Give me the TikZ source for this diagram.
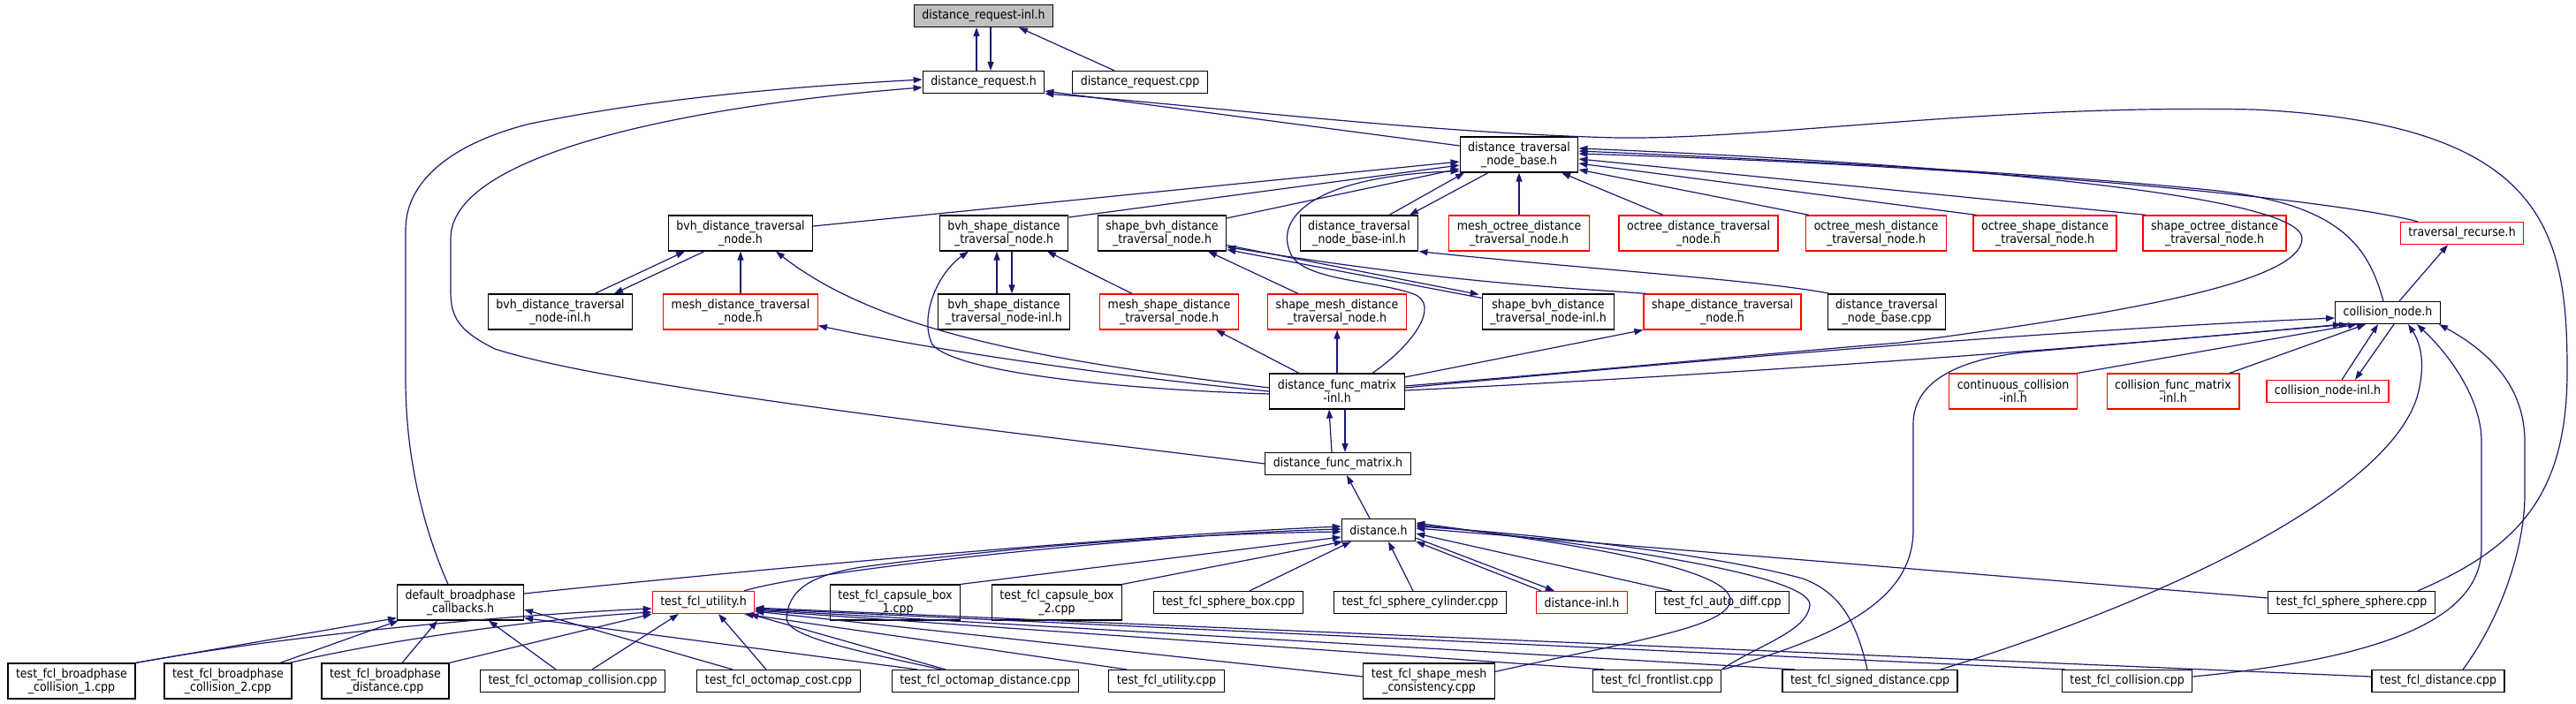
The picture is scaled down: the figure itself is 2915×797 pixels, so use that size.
\documentclass[tikz,border=0pt]{standalone}
\usepackage{fontspec}
\setmainfont{DejaVu Sans Condensed}
\usetikzlibrary{arrows.meta}
\definecolor{edgeblue}{HTML}{191970}
\definecolor{rootgray}{HTML}{BFBFBF}
\tikzset{
  file/.style={draw, line width=1.2pt, fill=white, align=center, inner xsep=9pt, inner ysep=4pt,
    minimum height=25pt, font=\fontsize{14}{15}\selectfont},
  tall/.style={minimum height=40pt},
  cut/.style={file, draw=red},
  dep/.style={draw=edgeblue, line width=1.2pt, -{Triangle[length=10pt,width=7pt]}}
}
\begin{document}
\begin{tikzpicture}[x=1pt,y=-1pt]
        \useasboundingbox (0,0) rectangle (2915,797);

        \node[file,fill=rootgray] at (1113,18) (reqinl) {distance\_request-inl.h};
        \node[file] at (1113,93) (reqh) {distance\_request.h};
        \node[file] at (1290,93) (reqcpp) {distance\_request.cpp};
        \node[file,tall] at (1719,175) (dtnb) {distance\_traversal\\\_node\_base.h};

        \node[file,tall] at (838,264) (bvhdtn) {bvh\_distance\_traversal\\\_node.h};
        \node[file,tall] at (1136,264) (bvhsdtn) {bvh\_shape\_distance\\\_traversal\_node.h};
        \node[file,tall] at (1315,264) (sbvhdtn) {shape\_bvh\_distance\\\_traversal\_node.h};
        \node[file,tall] at (1538,264) (dtnbinl) {distance\_traversal\\\_node\_base-inl.h};
        \node[cut,tall] at (1719,264) (moct) {mesh\_octree\_distance\\\_traversal\_node.h};
        \node[cut,tall] at (1922,264) (oct) {octree\_distance\_traversal\\\_node.h};
        \node[cut,tall] at (2123,264) (omesh) {octree\_mesh\_distance\\\_traversal\_node.h};
        \node[cut,tall] at (2314,264) (oshape) {octree\_shape\_distance\\\_traversal\_node.h};
        \node[cut,tall] at (2506,264) (soct) {shape\_octree\_distance\\\_traversal\_node.h};
        \node[cut] at (2786,264) (trec) {traversal\_recurse.h};

        \node[file,tall] at (634,353) (bvhinl) {bvh\_distance\_traversal\\\_node-inl.h};
        \node[cut,tall] at (838,353) (meshdtn) {mesh\_distance\_traversal\\\_node.h};
        \node[file,tall] at (1136,353) (bvhsinl) {bvh\_shape\_distance\\\_traversal\_node-inl.h};
        \node[cut,tall] at (1323,353) (mshape) {mesh\_shape\_distance\\\_traversal\_node.h};
        \node[cut,tall] at (1513,353) (smesh) {shape\_mesh\_distance\\\_traversal\_node.h};
        \node[file,tall] at (1752,353) (sbvhinl) {shape\_bvh\_distance\\\_traversal\_node-inl.h};
        \node[cut,tall] at (1949,353) (sdtn) {shape\_distance\_traversal\\\_node.h};
        \node[file,tall] at (2135,353) (dtnbcpp) {distance\_traversal\\\_node\_base.cpp};
        \node[file] at (2702,354) (cnode) {collision\_node.h};

        \node[file,tall] at (1513,443) (dfminl) {distance\_func\_matrix\\-inl.h};
        \node[cut,tall] at (2278,443) (ccinl) {continuous\_collision\\-inl.h};
        \node[cut,tall] at (2459,443) (cfminl) {collision\_func\_matrix\\-inl.h};
        \node[cut] at (2634,443) (cninl) {collision\_node-inl.h};
        \node[file] at (1514,525) (dfm) {distance\_func\_matrix.h};
        \node[file] at (1560,600) (dist) {distance.h};

        \node[file,tall] at (521,682) (dbc) {default\_broadphase\\\_callbacks.h};
        \node[cut] at (796,682) (tfuh) {test\_fcl\_utility.h};
        \node[file,tall] at (1013,682) (cap1) {test\_fcl\_capsule\_box\\\_1.cpp};
        \node[file,tall] at (1196,682) (cap2) {test\_fcl\_capsule\_box\\\_2.cpp};
        \node[file] at (1390,682) (sbox) {test\_fcl\_sphere\_box.cpp};
        \node[file] at (1607,682) (scyl) {test\_fcl\_sphere\_cylinder.cpp};
        \node[cut] at (1790,682) (dinl) {distance-inl.h};
        \node[file] at (1949,682) (adiff) {test\_fcl\_auto\_diff.cpp};
        \node[file] at (2661,682) (ssph) {test\_fcl\_sphere\_sphere.cpp};

        \node[file,tall] at (81,771) (bc1) {test\_fcl\_broadphase\\\_collision\_1.cpp};
        \node[file,tall] at (258,771) (bc2) {test\_fcl\_broadphase\\\_collision\_2.cpp};
        \node[file,tall] at (436,771) (bdist) {test\_fcl\_broadphase\\\_distance.cpp};
        \node[file] at (648,771) (ocol) {test\_fcl\_octomap\_collision.cpp};
        \node[file] at (881,771) (ocost) {test\_fcl\_octomap\_cost.cpp};
        \node[file] at (1115,771) (odist) {test\_fcl\_octomap\_distance.cpp};
        \node[file] at (1320,771) (tfucpp) {test\_fcl\_utility.cpp};
        \node[file,tall] at (1617,771) (smc) {test\_fcl\_shape\_mesh\\\_consistency.cpp};
        \node[file] at (1875,771) (flist) {test\_fcl\_frontlist.cpp};
        \node[file] at (2116,771) (sdist) {test\_fcl\_signed\_distance.cpp};
        \node[file] at (2407,771) (tcol) {test\_fcl\_collision.cpp};
        \node[file] at (2759,771) (tdist) {test\_fcl\_distance.cpp};

        \draw[dep] ([xshift=-8pt]reqh.north) -- ([xshift=-8pt]reqinl.south);
        \draw[dep] ([xshift=8pt]reqinl.south) -- ([xshift=8pt]reqh.north);
        \draw[dep] ([xshift=-29pt]reqcpp.north) -- ([xshift=40pt]reqinl.south);

        \draw[dep] ([yshift=10pt]dtnb.west) -- ([yshift=3pt]reqh.south east);
        \draw[dep] ([xshift=75pt]ssph.north) .. controls (2850,620) and (2905,560) .. (2905,420)
          .. controls (2905,260) and (2880,140) .. (2550,124) .. controls (2250,118) and (2000,158) .. (1830,156)
          .. controls (1600,150) and (1350,118) .. (reqh.south east);
        \draw[dep] ([xshift=-14pt]dbc.north) .. controls (480,600) and (459,520) .. (459,430) -- (459,260)
          .. controls (459,200) and (520,160) .. (600,140) .. controls (750,110) and (900,98) .. ([yshift=3pt]reqh.west);
        \draw[dep] (dfm.west) .. controls (1150,490) and (700,440) .. (560,395) .. controls (520,375) and (510,360) .. (510,330)
          -- (510,270) .. controls (510,170) and (800,118) .. ([yshift=-6pt]reqh.west);

        \draw[dep] ([yshift=8pt]bvhdtn.east) -- ([yshift=-8pt]dtnb.west);
        \draw[dep] ([yshift=18pt]bvhsdtn.east) -- ([yshift=-12pt]dtnb.west);
        \draw[dep] ([yshift=17pt]sbvhdtn.east) -- ([yshift=-16pt]dtnb.west);
        \draw[dep] ([xshift=34pt]dtnbinl.north) -- ([xshift=-62pt]dtnb.south);
        \draw[dep] ([xshift=-35pt]dtnb.south) -- ([xshift=57pt]dtnbinl.north);
        \draw[dep] (moct.north) -- (dtnb.south);
        \draw[dep] ([xshift=-40pt]oct.north) -- ([xshift=48pt]dtnb.south);
        \draw[dep] ([xshift=4pt]omesh.north west) -- ([yshift=-17pt]dtnb.east);
        \draw[dep] ([xshift=4pt]oshape.north west) -- ([yshift=-10pt]dtnb.east);
        \draw[dep] ([xshift=4pt]soct.north west) -- ([yshift=-5pt]dtnb.east);
        \draw[dep] ([xshift=-50pt]trec.north) .. controls (2650,228) and (2300,190) .. ([yshift=1pt]dtnb.east);
        \draw[dep] ([xshift=-5pt]cnode.north) .. controls (2680,280) and (2650,230) .. (2500,215)
          .. controls (2300,195) and (2000,180) .. ([yshift=4pt]dtnb.east);
        \draw[dep] ([yshift=6pt]dfminl.east) .. controls (1800,420) and (2000,400) .. (2150,388)
          .. controls (2400,355) and (2605,320) .. (2605,270) .. controls (2605,220) and (2200,185) .. ([yshift=7pt]dtnb.east);
        \draw[dep] ([xshift=40pt]dfminl.north) .. controls (1600,390) and (1630,345) .. (1600,333)
          .. controls (1560,318) and (1480,318) .. (1462,290) .. controls (1440,250) and (1480,200) .. ([yshift=2pt]dtnb.south west);

        \draw[dep] ([xshift=39pt]bvhinl.north) -- ([xshift=-63pt]bvhdtn.south);
        \draw[dep] ([xshift=-41pt]bvhdtn.south) -- ([xshift=61pt]bvhinl.north);
        \draw[dep] (meshdtn.north) -- (bvhdtn.south);
        \draw[dep] ([yshift=4pt]dfminl.west) .. controls (1200,410) and (1000,380) .. ([xshift=40pt]bvhdtn.south);
        \draw[dep] (dfminl.west) .. controls (1250,425) and (1050,395) .. ([yshift=5pt]meshdtn.south east);

        \draw[dep] ([yshift=-3pt]dfminl.west) .. controls (1250,440) and (1080,420) .. (1055,390)
          .. controls (1040,360) and (1060,310) .. ([xshift=-40pt]bvhsdtn.south);
        \draw[dep] ([xshift=-8pt]bvhsinl.north) -- ([xshift=-8pt]bvhsdtn.south);
        \draw[dep] ([xshift=9pt]bvhsdtn.south) -- ([xshift=9pt]bvhsinl.north);
        \draw[dep] ([xshift=-42pt]mshape.north) -- ([xshift=49pt]bvhsdtn.south);

        \draw[dep] ([xshift=-44pt]smesh.north) -- ([xshift=52pt]sbvhdtn.south);
        \draw[dep] ([yshift=-5pt]sbvhinl.north west) -- ([yshift=2pt]sbvhdtn.south east);
        \draw[dep] ([yshift=7pt]sbvhdtn.south east) -- ([xshift=-3pt,yshift=-1pt]sbvhinl.north west);
        \draw[dep] ([xshift=3pt]sdtn.north west) .. controls (1780,326) and (1650,322) .. ([yshift=5pt]sbvhdtn.south east);
        \draw[dep] ([xshift=3pt]dtnbcpp.north west) .. controls (2000,318) and (1800,305) .. (dtnbinl.south east);

        \draw[dep] ([xshift=-43pt]dfminl.north) -- ([xshift=53pt]mshape.south);
        \draw[dep] (dfminl.north) -- (smesh.south);
        \draw[dep] ([yshift=16pt]dfminl.east) -- (sdtn.south west);
        \draw[dep] ([yshift=4pt]dfminl.east) .. controls (1900,410) and (2300,375) .. ([yshift=-6pt]cnode.west);
        \draw[dep] ([yshift=1pt]dfminl.east) .. controls (1900,427) and (2300,400) .. ([xshift=-52pt]cnode.south);

        \draw[dep] ([xshift=13pt]cnode.north) -- ([xshift=-16pt]trec.south);
        \draw[dep] (ccinl.north east) -- ([xshift=-35pt]cnode.south);
        \draw[dep] ([xshift=64pt]cfminl.north) -- ([xshift=-25pt]cnode.south);
        \draw[dep] ([xshift=16pt]cninl.north) -- ([xshift=-11pt]cnode.south);
        \draw[dep] ([xshift=7pt]cnode.south) -- ([xshift=31pt]cninl.north);
        \draw[dep] ([xshift=75pt]flist.north) .. controls (2080,720) and (2165,680) .. (2165,600) -- (2165,480)
          .. controls (2165,430) and (2220,405) .. (2300,398) .. controls (2450,385) and (2600,372) .. ([xshift=-45pt]cnode.south);
        \draw[dep] ([xshift=80pt]sdist.north) .. controls (2450,680) and (2700,560) .. (2735,450)
          .. controls (2745,415) and (2740,390) .. ([xshift=23pt]cnode.south);
        \draw[dep] ([yshift=5pt]tcol.east) .. controls (2700,745) and (2808,700) .. (2808,620) -- (2808,500)
          .. controls (2808,450) and (2770,400) .. ([xshift=33pt]cnode.south);
        \draw[dep] ([xshift=28pt]tdist.north) .. controls (2830,700) and (2857,620) .. (2857,560) -- (2857,500)
          .. controls (2857,440) and (2820,400) .. ([xshift=58pt]cnode.south);

        \draw[dep] ([xshift=-7pt]dfm.north) -- ([xshift=-9pt]dfminl.south);
        \draw[dep] ([xshift=9pt]dfminl.south) -- ([xshift=8pt]dfm.north);
        \draw[dep] ([xshift=-10pt]dist.north) -- ([xshift=10pt]dfm.south);

        \draw[dep] ([yshift=10pt]dbc.east) .. controls (900,640) and (1300,605) .. ([yshift=4pt]dist.west);
        \draw[dep] ([xshift=46pt]tfuh.north) .. controls (920,645) and (1300,605) .. ([yshift=1pt]dist.west);
        \draw[dep] ([xshift=-50pt]odist.north) .. controls (960,735) and (890,720) .. (890,700)
          .. controls (892,672) and (910,652) .. (975,642) .. controls (1150,618) and (1350,604) .. ([yshift=-2pt]dist.west);
        \draw[dep] (cap1.north east) -- ([yshift=-8pt]dist.west);
        \draw[dep] (cap2.north east) -- ([xshift=2pt]dist.south west);
        \draw[dep] ([xshift=24pt]sbox.north) -- ([xshift=-31pt]dist.south);
        \draw[dep] ([xshift=-8pt]scyl.north) -- ([xshift=11pt]dist.south);
        \draw[dep] ([xshift=-46pt]dinl.north) -- (dist.south east);
        \draw[dep] ([yshift=4pt]dist.south east) -- ([xshift=-31pt]dinl.north);
        \draw[dep] ([xshift=-57pt]adiff.north) -- ([yshift=-4pt]dist.east);
        \draw[dep] ([yshift=5pt]ssph.west) -- ([yshift=2pt]dist.east);
        \draw[dep] ([xshift=-3pt]sdist.north) .. controls (2100,700) and (2080,670) .. (2040,655)
          .. controls (1950,630) and (1750,605) .. ([yshift=4pt]dist.east);
        \draw[dep] (flist.north east) .. controls (1990,730) and (2045,715) .. (2048,685)
          .. controls (2050,650) and (1800,615) .. ([yshift=6pt]dist.east);
        \draw[dep] ([yshift=-10pt]smc.north east) .. controls (1850,725) and (1955,710) .. (1958,680)
          .. controls (1960,640) and (1750,612) .. ([yshift=8pt]dist.east);

        \draw[dep] (bc1.north east) .. controls (350,715) and (600,695) .. ([yshift=-7pt]tfuh.west);
        \draw[dep] ([xshift=-3pt]bc2.north east) .. controls (450,722) and (620,700) .. ([yshift=-11pt]tfuh.west);
        \draw[dep] (bdist.north east) -- (tfuh.south west);
        \draw[dep] ([xshift=22pt]ocol.north) -- ([xshift=-28pt]tfuh.south);
        \draw[dep] ([xshift=-14pt]ocost.north) -- ([xshift=17pt]tfuh.south);
        \draw[dep] ([xshift=-45pt]odist.north) -- ([xshift=-6pt]tfuh.south east);
        \draw[dep] ([xshift=-45pt]tfucpp.north) -- ([xshift=-12pt]tfuh.south east);
        \draw[dep] ([yshift=5pt]smc.west) -- ([yshift=3pt]tfuh.south east);
        \draw[dep] ([xshift=-60pt]flist.north) -- ([yshift=4pt]tfuh.south east);
        \draw[dep] ([xshift=-85pt]sdist.north) -- ([yshift=5pt]tfuh.south east);
        \draw[dep] ([xshift=-70pt]tcol.north) -- ([yshift=6pt]tfuh.south east);
        \draw[dep] ([yshift=5pt]tdist.west) -- ([yshift=7pt]tfuh.south east);

        \draw[dep] (bc1.north east) -- ([yshift=3pt]dbc.south west);
        \draw[dep] ([xshift=59pt]bc2.north) -- ([xshift=-70pt]dbc.south);
        \draw[dep] ([xshift=19pt]bdist.north) -- ([xshift=-26pt]dbc.south);
        \draw[dep] ([xshift=-19pt]ocol.north) -- ([xshift=32pt]dbc.south);
        \draw[dep] ([xshift=-52pt]ocost.north) -- ([yshift=-8pt]dbc.east);
        \draw[dep] ([xshift=-77pt]odist.north) -- ([yshift=3pt]dbc.south east);
      \end{tikzpicture}
\end{document}
